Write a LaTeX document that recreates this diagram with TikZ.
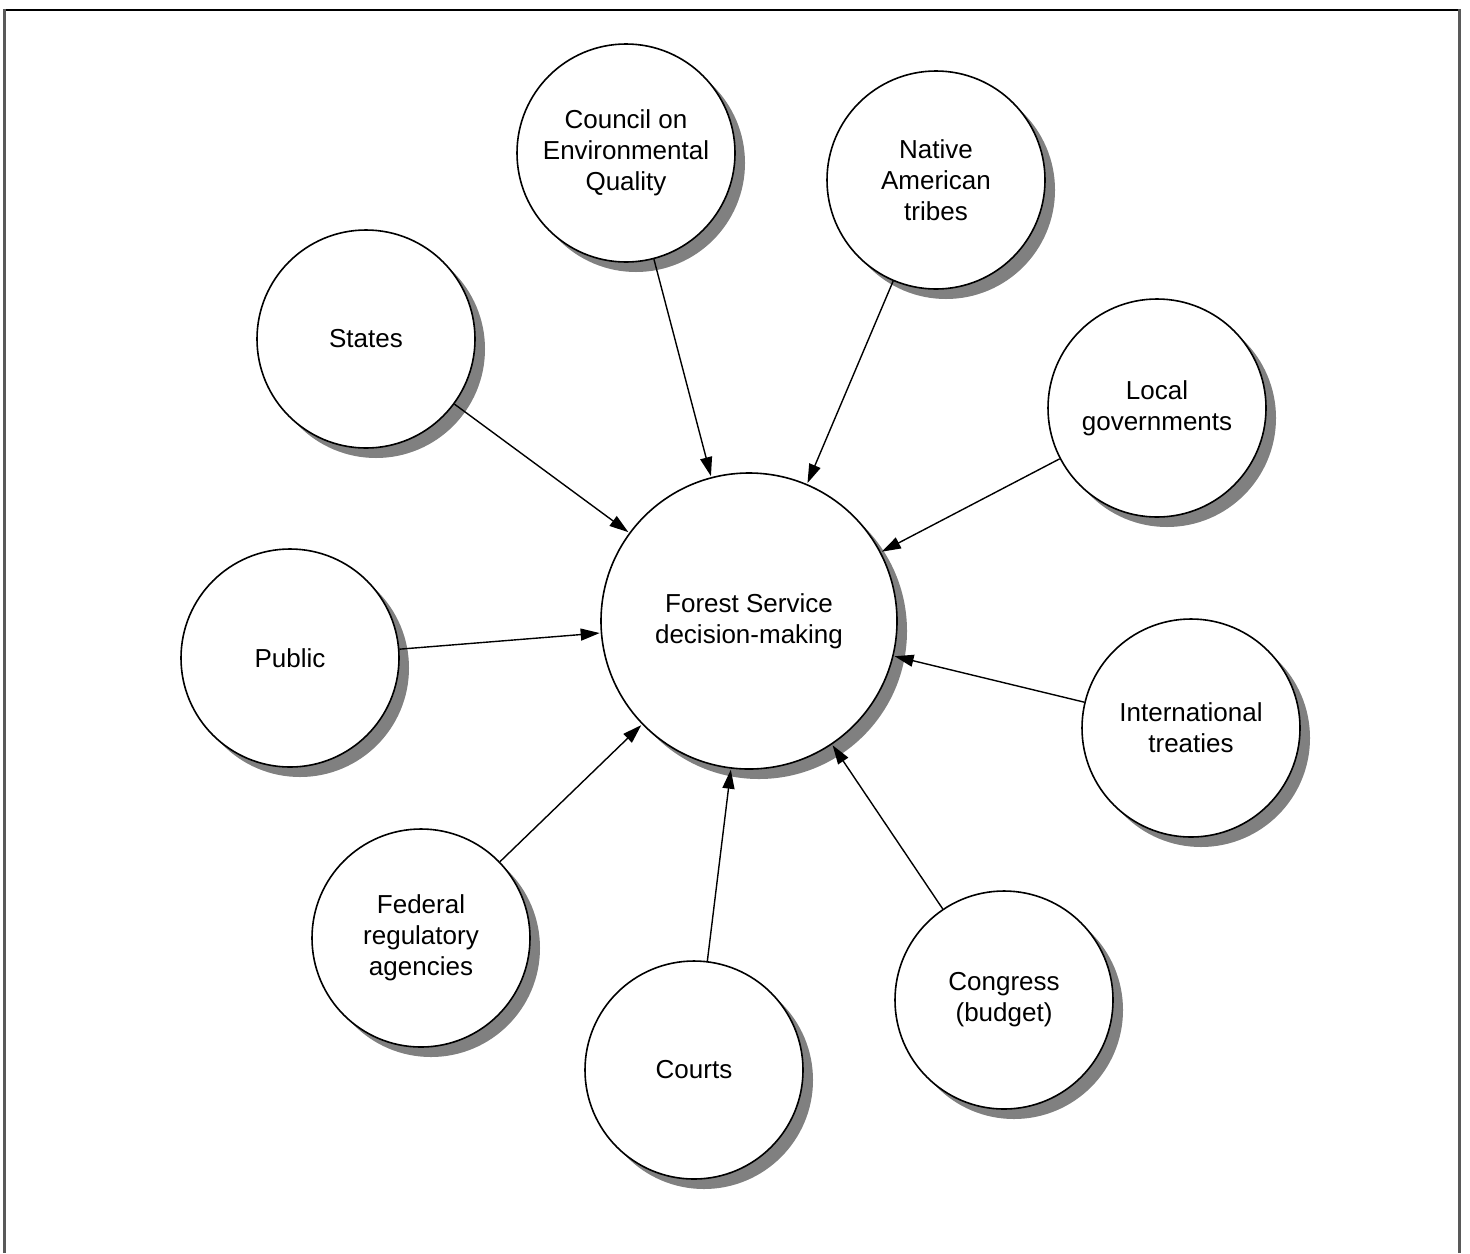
\documentclass[tikz,border=0pt]{standalone}
\usepackage{fontspec}
\setmainfont{Liberation Sans}
\usetikzlibrary{arrows.meta,shadows}

\begin{document}
\begin{tikzpicture}[x=0.5pt,y=-0.5pt,
  actor/.style={circle,draw,line width=0.8pt,fill=white,inner sep=0pt,
    minimum size=109pt,align=center,font=\fontsize{13}{15.5}\selectfont,
    drop shadow={shadow xshift=5pt,shadow yshift=-5pt,fill=black!50,opacity=1}},
  hub/.style={actor,minimum size=148pt},
  influence/.style={-{Triangle[length=9.5pt,width=6pt]},line width=0.7pt,
    shorten >=0.5pt}]
\useasboundingbox (0,0) rectangle (1470,1253);
% frame
\draw[line width=1pt] (3,9.5) -- (1461,9.5);
\draw[line width=1.5pt,black!65] (4.5,9) -- (4.5,1253);
\draw[line width=1.5pt,black!65] (1459,9) -- (1459,1253);

% centre and the actors around it
\node[hub] (fs) at (749,621) {Forest Service\\decision-making};
\node[actor] (ceq) at (626,153) {Council on\\Environmental\\Quality};
\node[actor] (nat) at (936,180) {Native\\American\\tribes};
\node[actor] (st) at (366,339) {States};
\node[actor] (loc) at (1157,408) {Local\\governments};
\node[actor] (pub) at (290,658) {Public};
\node[actor] (intl) at (1191,728) {International\\treaties};
\node[actor] (fed) at (421,938) {Federal\\regulatory\\agencies};
\node[actor] (crt) at (694,1070) {Courts};
\node[actor] (cong) at (1004,1000) {Congress\\(budget)};

\path[influence]
  (ceq) edge (fs)
  (nat) edge (fs)
  (st) edge (fs)
  (loc) edge (fs)
  (pub) edge (fs)
  (intl) edge (fs)
  (fed) edge (fs)
  (crt) edge (fs)
  (cong) edge (fs);
\end{tikzpicture}
\end{document}
